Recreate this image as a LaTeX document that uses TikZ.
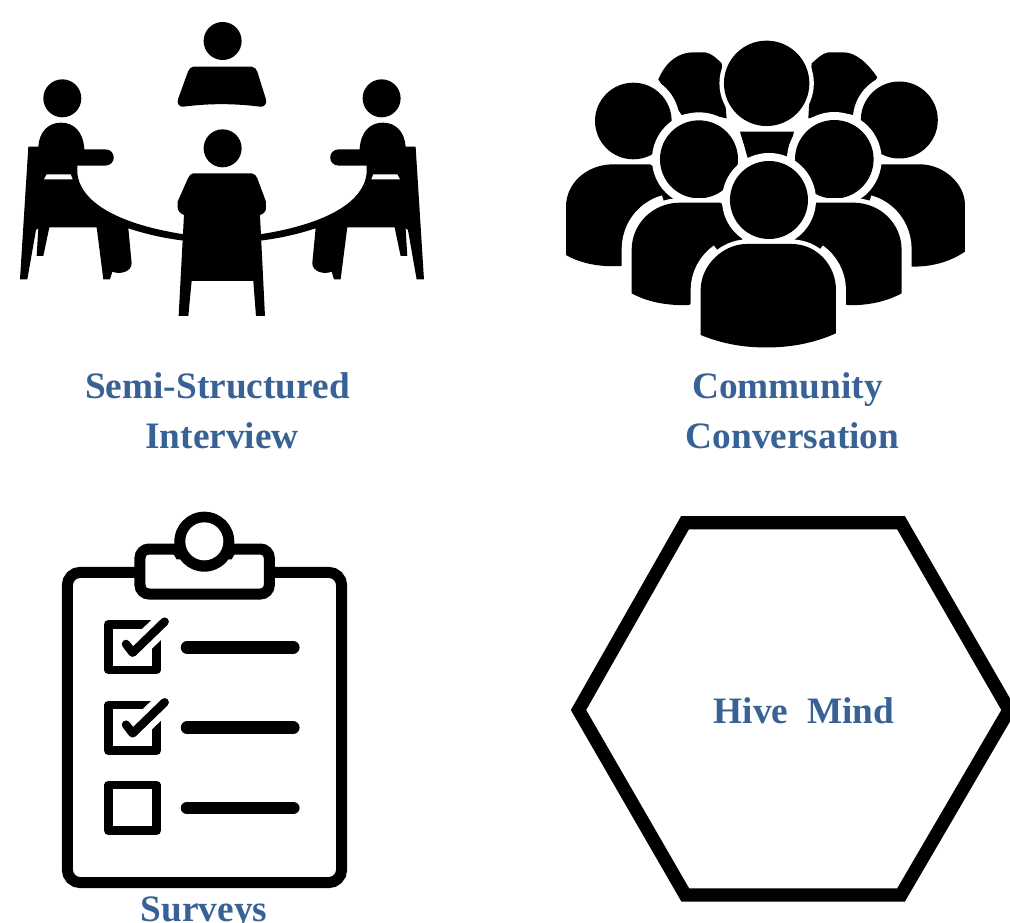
\documentclass[tikz,border=0pt]{standalone}
\usepackage{fontspec}
\setmainfont{Liberation Serif}
\definecolor{lbl}{HTML}{386296}
\tikzset{
  px/.style={x=1pt,y=-1pt},
  zoomgrid/.style={x=0.3333pt,y=-0.3333pt},
  lab/.style={font=\fontsize{37.3}{37.3}\selectfont\bfseries,text=lbl,anchor=base,inner sep=0pt},
  ringed/.style={fill=black,preaction={draw=white,line width=#1}},
  ringed/.default=9pt,
  boxline/.style={draw=black,line width=8.5pt,line join=round},
  dashline/.style={draw=black,line width=12.5pt,line cap=round},
}
\newcommand{\seatedperson}{%
  \fill[black] (85,440) -- (115,440) .. controls (118,395) and (145,368) .. (183,368) .. controls (222,368) and (250,395) .. (253,448) -- (315,448) .. controls (350,448) and (350,497) .. (315,497) -- (232,497) -- (232,520) .. controls (240,600) and (340,670) .. (552,703) -- (552,722) .. controls (490,715) and (430,700) .. (385,685) -- (395,790) .. controls (395,815) and (360,825) .. (337,815) -- (330,838) -- (310,838) -- (290,682) -- (148,682) -- (130,768) -- (110,768) -- (115,685) -- (108,690) -- (82,838) -- (60,838) -- cycle;
  \fill[white] (140,523) -- (212,523) -- (218,538) -- (132,538) -- cycle;
  \fill[black] (187,295) circle[radius=19pt];
}
\newcommand{\checkbox}[1]{%
  \begin{scope}[yshift=#1]
  \draw[boxline] (205,373) rectangle (350,510);
  \draw[draw=white,line width=21pt,line cap=butt] (278,458) -- (385,355);
  \draw[draw=black,line width=8.5pt,line cap=round,line join=round] (258,432) -- (278,458) -- (374,365);
  \end{scope}
}
\begin{document}
\begin{tikzpicture}[px]
\useasboundingbox (0,0) rectangle (1010,922);
\clip (0,0) rectangle (1010,922);
\fill[white] (0,0) rectangle (1010,922);
% --- table meeting
\begin{scope}[zoomgrid]
  \seatedperson
  \begin{scope}[shift={(1332,0)},xscale=-1]
    \seatedperson
  \end{scope}
  \fill[black] (668,123) circle[radius=19pt];
  \fill[black] (580,200) -- (755,200) .. controls (765,200) and (768,208) .. (772,215) -- (798,298) .. controls (802,312) and (792,322) .. (780,320) .. controls (700,310) and (630,310) .. (550,320) .. controls (538,322) and (530,310) .. (534,298) -- (564,215) .. controls (568,208) and (572,200) .. (580,200) -- cycle;
  \fill[black] (668,445) circle[radius=19pt];
  \fill[black] (580,520) -- (755,520) .. controls (765,520) and (768,528) .. (772,535) -- (798,605) -- (798,625) .. controls (798,635) and (790,642) .. (780,645) -- (795,948) -- (768,948) -- (760,843) -- (575,843) -- (565,948) -- (536,948) -- (552,645) .. controls (540,640) and (533,632) .. (533,622) -- (533,605) -- (564,535) .. controls (568,528) and (572,520) .. (580,520) -- cycle;
\end{scope}
% --- crowd
\begin{scope}[shift={(550,20)},zoomgrid]
  \fill[black] (325,178) .. controls (350,120) and (390,97) .. (430,97) -- (465,97) .. controls (485,100) and (500,115) .. (515,130) -- (530,295) .. controls (480,285) and (440,275) .. (395,285) -- cycle;
  \fill[black] (982,172) .. controls (950,125) and (915,97) .. (880,97) -- (835,97) .. controls (815,100) and (800,118) .. (785,130) -- (775,295) .. controls (820,285) and (860,275) .. (910,285) -- cycle;
  \path[ringed] (650,190) circle[radius=42.7pt];
  \fill[black] (570,335) -- (732,335) -- (712,420) -- (595,420) -- cycle;
  \path[ringed=16pt] (250,303) circle[radius=38.3pt];
  \path[ringed=16pt] (1048,300) circle[radius=38.5pt];
  \fill[black] (48,705) -- (48,560) .. controls (48,490) and (110,433) .. (190,433) -- (300,433) -- (400,500) -- (260,738) -- (213,738) .. controls (150,742) and (90,730) .. (48,705) -- cycle;
  \fill[black] (1245,695) -- (1245,555) .. controls (1245,490) and (1180,433) .. (1110,433) -- (995,433) -- (900,500) -- (1040,740) -- (1088,740) .. controls (1150,740) and (1200,725) .. (1245,695) -- cycle;
  \path[ringed=16pt] (447,418) circle[radius=39pt];
  \path[ringed=16pt] (853,418) circle[radius=39.3pt];
  \draw[white,line width=20pt] (245,860) -- (245,690) .. controls (245,620) and (290,570) .. (345,555);
  \draw[white,line width=20pt] (1055,860) -- (1055,690) .. controls (1055,620) and (1010,570) .. (955,555);
  \path[ringed] (245,820) -- (245,690) .. controls (245,610) and (310,548) .. (390,548) -- (510,548) -- (600,600) -- (560,700) -- (418,855) .. controls (350,858) and (290,845) .. (245,820) -- cycle;
  \path[ringed] (1055,820) -- (1055,690) .. controls (1055,610) and (990,548) .. (910,548) -- (800,548) -- (710,600) -- (750,700) -- (890,855) .. controls (950,858) and (1010,845) .. (1055,820) -- cycle;
  \path[ringed=16pt] (657,540) circle[radius=39pt];
  \draw[white,line width=20pt] (452,970) -- (452,810) .. controls (452,765) and (475,725) .. (510,700);
  \draw[white,line width=20pt] (858,970) -- (858,810) .. controls (858,765) and (835,725) .. (800,700);
  \path[ringed] (452,945) -- (452,810) .. controls (452,735) and (520,672) .. (590,672) -- (725,672) .. controls (800,672) and (858,735) .. (858,810) -- (858,940) .. controls (780,975) and (700,985) .. (625,982) .. controls (560,980) and (500,965) .. (452,945) -- cycle;
\end{scope}
% --- clipboard
\begin{scope}[shift={(40,500)},zoomgrid]
  \draw[black,line width=11pt,rounded corners=13pt] (82,217) rectangle (905,1148);
  \draw[black,fill=white,line width=11pt,rounded corners=9pt] (300,147) rectangle (688,282);
  \fill[black] (385,135) -- (600,135) -- (575,178) -- (410,178) -- cycle;
  \fill[black] (493,125) circle[radius=30pt];
  \fill[white] (493,124) circle[radius=19pt];
  \checkbox{0pt}
  \checkbox{-80.67pt}
  \draw[boxline] (205,855) rectangle (350,992);
  \draw[dashline] (441,442) -- (760,442);
  \draw[dashline] (441,683) -- (760,683);
  \draw[dashline] (441,924) -- (760,924);
\end{scope}
% --- hexagon
\draw[black,line width=13.3pt,miter limit=10] (578.5,710) -- (685,522.7) -- (901,522.7) -- (1009,710) -- (901,895) -- (685.3,895) -- cycle;
% --- labels
\node[lab] (semi) at (217.5,398) {Semi-Structured};
\node[lab] (interview) at (222,448) {Interview};
\node[lab] (community) at (787.5,398) {Community};
\node[lab] (conversation) at (792.5,448) {Conversation};
\node[lab] (surveys) at (204,921) {Surveys};
\node[lab] (hive) at (804,723) {Hive\ \ Mind};
\end{tikzpicture}
\end{document}
